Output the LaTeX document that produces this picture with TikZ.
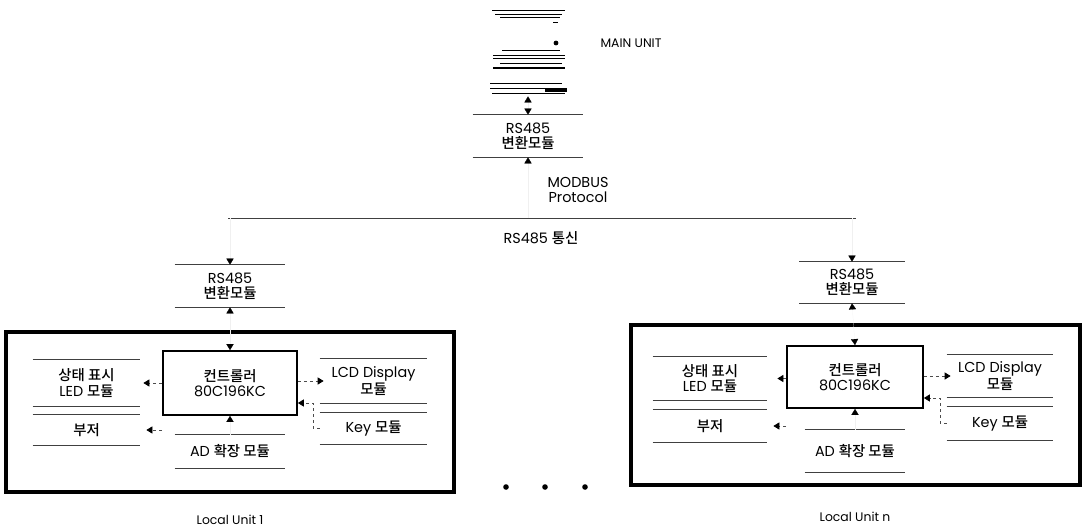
\documentclass[tikz,border=0pt]{standalone}
\usepackage{fontspec}
\setmainfont{Poppins}
\newfontfamily\kr{Noto Sans CJK KR}[UprightFont=* Medium]
\usetikzlibrary{arrows.meta}

\begin{document}
\begin{tikzpicture}[x=0.5pt, y=-0.5pt,
  txt/.style={font=\fontsize{7.2}{7.6}\selectfont, align=center, inner sep=0pt},
  mod/.style={txt, minimum width=55pt, minimum height=21pt},
  ctl/.style={txt, draw, line width=0.9pt, minimum width=67pt, minimum height=32pt},
  unit/.style={draw, line width=1.6pt, minimum width=224pt, minimum height=80pt},
  lbl/.style={font=\fontsize{6.2}{7}\selectfont, inner sep=0pt},
  rule/.style={line width=0.5pt, black!75},
  vlink/.style={-{Triangle[length=3pt,width=3.6pt,color=black]}, line width=0.1pt, black!6},
  vboth/.style={{Triangle[length=3pt,width=3.6pt,color=black]}-{Triangle[length=3pt,width=3.6pt,color=black]}, line width=0.1pt, black!6},
  hlink/.style={-{Triangle[length=3pt,width=3.6pt,color=black]}, line width=0.4pt, black!70, dash pattern=on 1.5pt off 1.5pt}
]
\useasboundingbox (0,0) rectangle (1086,530);

% main unit
\node[minimum width=38pt, minimum height=41pt, inner sep=0pt] (mainu) at (528,52) {};
\foreach \y/\xa/\xb/\w in {10/492/565/0.5, 14/495/562/0.4, 17/500/560/0.4, 50/502/560/0.4,
  55/493/565/0.5, 58/493/565/0.4, 63/500/562/0.4, 68/493/565/0.8, 83/490/562/0.5,
  88/490/565/0.4, 93/492/565/0.5}
  \draw[line width=\w pt] (\xa,\y) -- (\xb,\y);
\draw[line width=0.5pt] (553,22) -- (558,22);
\fill (556,43) circle (1.2pt);
\draw[line width=1.6pt] (545,90) -- (567,90);
\node[lbl] (mainlbl) at (631,43) {MAIN UNIT};

\node[mod] (rsm) at (528,136) {RS485\\{\kr 변환모듈}};
\node[txt] (modbus) at (578,190) {MODBUS\\Protocol};

% bus
\coordinate (busl) at (228,218);
\coordinate (busr) at (856,218);
\draw[rule] (busl) -- (busr);
\node[txt] (buslbl) at (541,238) {RS485 {\kr 통신}};

% local unit 1
\node[mod] (rsl) at (230,286) {RS485\\{\kr 변환모듈}};
\node[unit] (lu1) at (230,412) {};
\node[ctl] (ctll) at (230,383) {{\kr 컨트롤러}\\80C196KC};
\node[mod, minimum width=53.5pt, minimum height=23pt] (ledl) at (86.5,383) {{\kr 상태 표시}\\LED {\kr 모듈}};
\node[mod, minimum width=53.5pt, minimum height=15pt] (buzl) at (86.5,430) {\kr 부저};
\node[mod, minimum width=53.5pt, minimum height=22pt] (lcdl) at (373.5,381) {LCD Display\\{\kr 모듈}};
\node[mod, minimum width=53.5pt, minimum height=15.5pt] (keyl) at (373.5,428.5) {Key {\kr 모듈}};
\node[mod, minimum height=16.5pt] (adl) at (230,451.5) {AD {\kr 확장 모듈}};
\node[lbl] (lu1lbl) at (230,520) {Local Unit 1};

% local unit n
\node[mod, minimum width=52.5pt, minimum height=20.5pt] (rsr) at (852,282.5) {RS485\\{\kr 변환모듈}};
\node[unit, minimum width=224.5pt] (lun) at (855.5,405) {};
\node[ctl, minimum width=68pt, minimum height=31pt] (ctlr) at (855,377) {{\kr 컨트롤러}\\80C196KC};
\node[mod, minimum width=57pt, minimum height=21.5pt] (ledr) at (710,378.5) {{\kr 상태 표시}\\LED {\kr 모듈}};
\node[mod, minimum width=57pt, minimum height=16pt] (buzr) at (710,426) {\kr 부저};
\node[mod, minimum width=53pt, minimum height=21pt] (lcdr) at (1000,376) {LCD Display\\{\kr 모듈}};
\node[mod, minimum width=53pt, minimum height=16.5pt] (keyr) at (1000,423.5) {Key {\kr 모듈}};
\node[mod, minimum width=50pt, minimum height=21pt] (adr) at (855,451) {AD {\kr 확장 모듈}};
\node[lbl] (lunlbl) at (855,517) {Local Unit n};

% module rules
\foreach \m in {rsm,rsl,rsr,ledl,buzl,lcdl,keyl,adl,ledr,buzr,lcdr,keyr,adr}
  \draw[rule] (\m.north west) -- (\m.north east) (\m.south west) -- (\m.south east);

\foreach \x in {506,545,585}
  \fill (\x,487) circle (1.4pt);

% links
\draw[vboth, shorten <=1.5pt] (mainu.south) -- (rsm.north);
\draw[vlink] (rsm.south |- busl) -- (rsm.south);
\draw[vlink] (rsl.north |- busl) -- (rsl.north);
\draw[vlink] (rsr.north |- busl) -- (rsr.north);
\draw[vboth] (rsl.south) -- (ctll.north);
\draw[vboth] (rsr.south) -- (ctlr.north);
\draw[vlink] (adl.north) -- (ctll.south);
\draw[vlink] (adr.north) -- (ctlr.south);

\draw[hlink, shorten >=1.5pt] (ctll.west |- ledl) -- (ledl.east);
\draw[hlink, shorten >=3pt] (ctll.west |- buzl) -- (buzl.east);
\draw[hlink, shorten >=-2pt] (ctll.east |- lcdl) -- (lcdl.west);
\draw[hlink] (keyl.west) -- ++(-6,0) |- ([yshift=-10pt]ctll.east);
\draw[hlink, shorten >=5pt] (ctlr.west |- ledr) -- (ledr.east);
\draw[hlink, shorten >=3pt] (ctlr.west |- buzr) -- (buzr.east);
\draw[hlink, shorten >=-2pt] (ctlr.east |- lcdr) -- (lcdr.west);
\draw[hlink] (keyr.west) -- ++(-6,0) |- ([yshift=-10.5pt]ctlr.east);
\end{tikzpicture}
\end{document}
